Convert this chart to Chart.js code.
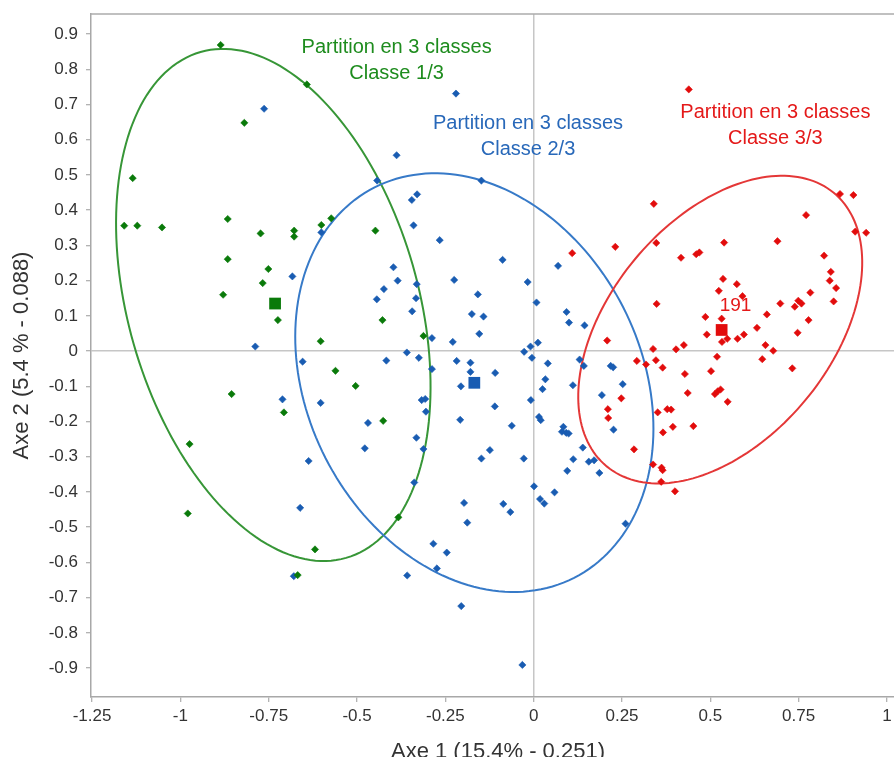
<!DOCTYPE html>
<html><head><meta charset="utf-8">
<script src="https://cdn.jsdelivr.net/npm/chart.js@4"></script>
<style>html,body{margin:0;padding:0;background:#fff;overflow:hidden;width:894px;height:757px}canvas{display:block}</style>
</head><body>
<canvas id="c" width="906" height="765" style="width:906px;height:765px"></canvas>
<script>
// ---- data ----
const xTicks = [-1.25, -1, -0.75, -0.5, -0.25, 0, 0.25, 0.5, 0.75, 1];
const yTicks = [-0.9, -0.8, -0.7, -0.6, -0.5, -0.4, -0.3, -0.2, -0.1, 0, 0.1, 0.2, 0.3, 0.4, 0.5, 0.6, 0.7, 0.8, 0.9];
const classLabels = ['Classe 1/3', 'Classe 2/3', 'Classe 3/3'];
const partitionTitle = 'Partition en 3 classes';

const class1 = [
 [-0.886,0.869],[-0.642,0.757],[-0.819,0.648],[-1.135,0.491],[-1.159,0.356],[-1.122,0.356],
 [-1.052,0.351],[-0.866,0.375],[-0.773,0.334],[-0.678,0.342],[-0.678,0.325],[-0.601,0.358],
 [-0.573,0.377],[-0.448,0.342],[-0.866,0.261],[-0.751,0.233],[-0.767,0.193],[-0.879,0.160],
 [-0.724,0.088],[-0.428,0.088],[-0.603,0.028],[-0.312,0.043],[-0.561,-0.056],[-0.504,-0.099],
 [-0.855,-0.122],[-0.707,-0.174],[-0.426,-0.198],[-0.974,-0.264],[-0.979,-0.461],[-0.619,-0.563],
 [-0.668,-0.636],[-0.383,-0.472]
];
const class2 = [
 [-0.763,0.688],[-0.443,0.484],[-0.601,0.337],[-0.683,0.212],[-0.424,0.176],[-0.444,0.147],
 [-0.788,0.013],[-0.654,-0.030],[-0.417,-0.027],[-0.711,-0.137],[-0.603,-0.147],[-0.469,-0.204],
 [-0.478,-0.276],[-0.637,-0.312],[-0.661,-0.445],[-0.679,-0.639],[-0.220,0.731],[-0.388,0.556],
 [-0.148,0.484],[-0.330,0.445],[-0.345,0.429],[-0.340,0.357],[-0.266,0.315],[-0.088,0.259],
 [0.069,0.242],[-0.397,0.238],[-0.385,0.200],[-0.331,0.190],[-0.225,0.202],[-0.017,0.196],
 [-0.158,0.161],[-0.333,0.150],[0.008,0.138],[0.093,0.111],[0.100,0.081],[0.144,0.073],
 [-0.344,0.113],[-0.175,0.105],[-0.142,0.098],[-0.154,0.049],[-0.288,0.037],[-0.229,0.026],
 [-0.359,-0.004],[-0.325,-0.019],[-0.288,-0.051],[-0.218,-0.028],[-0.179,-0.033],[-0.179,-0.059],
 [-0.109,-0.062],[-0.206,-0.100],[-0.027,-0.002],[-0.009,0.013],[0.012,0.024],[-0.005,-0.019],
 [0.040,-0.035],[0.033,-0.080],[0.025,-0.108],[0.111,-0.097],[0.130,-0.024],[0.142,-0.042],
 [0.218,-0.042],[0.225,-0.046],[0.193,-0.125],[0.226,-0.223],[-0.307,-0.136],[-0.317,-0.139],
 [-0.305,-0.172],[-0.008,-0.139],[-0.110,-0.157],[-0.208,-0.195],[0.015,-0.187],[0.020,-0.196],
 [-0.062,-0.212],[0.084,-0.215],[0.080,-0.229],[0.092,-0.232],[0.099,-0.234],[-0.332,-0.246],
 [-0.312,-0.278],[-0.124,-0.281],[-0.148,-0.305],[-0.028,-0.305],[0.139,-0.274],[0.112,-0.307],
 [0.156,-0.314],[0.171,-0.310],[0.095,-0.340],[0.186,-0.346],[-0.338,-0.373],[0.001,-0.384],
 [0.018,-0.420],[0.030,-0.433],[0.059,-0.401],[-0.197,-0.431],[-0.086,-0.434],[-0.066,-0.457],
 [-0.188,-0.487],[-0.284,-0.547],[-0.246,-0.572],[-0.274,-0.617],[-0.358,-0.637],[-0.205,-0.724],
 [-0.032,-0.891],[0.252,-0.094],[0.260,-0.490]
];
const class3 = [
 [0.439,0.743],[0.340,0.418],[0.231,0.296],[0.109,0.278],[0.347,0.307],[0.417,0.265],
 [0.460,0.275],[0.469,0.280],[0.539,0.308],[0.690,0.312],[0.771,0.386],[0.867,0.446],
 [0.905,0.443],[0.910,0.339],[0.941,0.336],[0.822,0.271],[0.841,0.225],[0.838,0.200],
 [0.856,0.179],[0.783,0.166],[0.536,0.205],[0.575,0.190],[0.524,0.171],[0.591,0.156],
 [0.208,0.030],[0.210,-0.165],[0.211,-0.190],[0.348,0.134],[0.698,0.135],[0.749,0.143],
 [0.758,0.135],[0.849,0.141],[0.739,0.126],[0.660,0.104],[0.778,0.088],[0.486,0.097],
 [0.532,0.092],[0.490,0.047],[0.533,0.026],[0.548,0.035],[0.577,0.035],[0.595,0.047],
 [0.632,0.066],[0.747,0.052],[0.656,0.017],[0.678,0.001],[0.647,-0.023],[0.732,-0.049],
 [0.425,0.017],[0.403,0.005],[0.338,0.006],[0.519,-0.016],[0.292,-0.028],[0.318,-0.038],
 [0.346,-0.026],[0.365,-0.047],[0.502,-0.057],[0.428,-0.065],[0.436,-0.119],[0.513,-0.122],
 [0.521,-0.114],[0.529,-0.109],[0.549,-0.144],[0.248,-0.134],[0.351,-0.174],[0.378,-0.165],
 [0.389,-0.166],[0.394,-0.215],[0.452,-0.213],[0.366,-0.231],[0.284,-0.279],[0.338,-0.322],
 [0.362,-0.331],[0.365,-0.338],[0.361,-0.371],[0.400,-0.398]
];
const centroids = [[-0.732,0.135],[-0.168,-0.090],[0.532,0.060]];
// confidence ellipses: centre x, centre y, semi-major, semi-minor, angle (deg)
const ellipseCx = [-0.737, -0.168, 0.528];
const ellipseCy = [0.131, -0.0895, 0.061];
const ellipseA = [0.747, 0.622, 0.504];
const ellipseB = [0.4105, 0.4725, 0.3134];
const ellipseAngle = [106, 117, 50.4];
const labeledName = '191';
const labeledPoint = [0.532, 0.092];

// ---- styles ----
const pointColors = ['rgb(10,122,10)', 'rgb(25,92,178)', 'rgb(226,12,12)'];
const ellipseColors = ['rgb(55,150,55)', 'rgb(55,122,200)', 'rgb(228,55,55)'];
const textColors = ['rgb(30,140,30)', 'rgb(40,104,185)', 'rgb(228,25,25)'];
const FONT = "'Liberation Sans', Arial, sans-serif";
const annotationAnchors = [[-0.388,0.862],[-0.016,0.647],[0.684,0.678]];
const PLOT_LEFT = 91, PLOT_RIGHT = 905, PLOT_TOP = 14, PLOT_BOTTOM = 697;

function toPts(arr){ return arr.map(p => ({x:p[0], y:p[1]})); }
function fmt(v){ let r = Math.round(v*100)/100; if (Object.is(r,-0)) r = 0; return String(r); }

const datasets = [];
[class1, class2, class3].forEach((cls, i) => {
  datasets.push({label: classLabels[i], data: toPts(cls), pointStyle:'rectRot', pointRadius:3.6,
    pointBorderWidth:0.6, backgroundColor: pointColors[i], borderColor: pointColors[i], showLine:false});
});
centroids.forEach((c, i) => {
  datasets.push({label: classLabels[i] + ' centre', data: [{x:c[0], y:c[1]}], pointStyle:'rect', pointRadius:8.3,
    pointBorderWidth:0, backgroundColor: pointColors[i], borderColor: pointColors[i], showLine:false});
});

const decor = {
  id:'decor',
  beforeDatasetsDraw(chart){
    const {ctx, scales:{x, y}} = chart;
    ctx.save();
    for (let i = 0; i < ellipseCx.length; i++) {
      const th = ellipseAngle[i]*Math.PI/180, a = ellipseA[i], b = ellipseB[i];
      ctx.beginPath();
      for (let k = 0; k <= 180; k++) {
        const t = k/180*2*Math.PI;
        const dx = a*Math.cos(t)*Math.cos(th) - b*Math.sin(t)*Math.sin(th);
        const dy = a*Math.cos(t)*Math.sin(th) + b*Math.sin(t)*Math.cos(th);
        const px = x.getPixelForValue(ellipseCx[i]+dx), py = y.getPixelForValue(ellipseCy[i]+dy);
        if (k === 0) ctx.moveTo(px, py); else ctx.lineTo(px, py);
      }
      ctx.closePath();
      ctx.strokeStyle = ellipseColors[i];
      ctx.lineWidth = 2;
      ctx.stroke();
    }
    ctx.restore();
  },
  afterDraw(chart){
    const {ctx, chartArea, scales:{x, y}} = chart;
    ctx.save();
    ctx.strokeStyle = '#ababab'; ctx.lineWidth = 1.5;
    ctx.beginPath(); ctx.moveTo(chartArea.left, chartArea.top); ctx.lineTo(chartArea.right, chartArea.top); ctx.stroke();
    ctx.font = '20px ' + FONT; ctx.textAlign = 'center'; ctx.textBaseline = 'middle';
    annotationAnchors.forEach((p, i) => {
      const px = x.getPixelForValue(p[0]), py = y.getPixelForValue(p[1]);
      ctx.fillStyle = textColors[i];
      ctx.fillText(partitionTitle, px, py);
      ctx.fillText(classLabels[i], px, py + 26);
    });
    ctx.font = '19px ' + FONT; ctx.textAlign = 'left';
    ctx.fillStyle = textColors[2];
    ctx.fillText(labeledName, x.getPixelForValue(labeledPoint[0]) - 2, y.getPixelForValue(labeledPoint[1]) - 13);
    ctx.restore();
  }
};

const zeroGrid = c => (c.tick && Math.abs(c.tick.value) < 1e-9) ? '#c6c6c6' : 'rgba(0,0,0,0)';
function noPad(s){ s.paddingTop = 0; s.paddingBottom = 0; s.paddingLeft = 0; s.paddingRight = 0; }
// pin the plot frame so the axes sit exactly where the reference has them
function pinX(s){ s.left = PLOT_LEFT; s.right = PLOT_RIGHT; s.width = PLOT_RIGHT - PLOT_LEFT; s.configure(); }
function pinY(s){ s.top = PLOT_TOP; s.bottom = PLOT_BOTTOM; s.height = PLOT_BOTTOM - PLOT_TOP; s.configure(); }

new Chart(document.getElementById('c'), {
  type:'scatter',
  data:{datasets},
  options:{
    responsive:false, animation:false, events:[],
    layout:{padding:{top:PLOT_TOP, right:1, left:0, bottom:0}},
    plugins:{legend:{display:false}, tooltip:{enabled:false}},
    scales:{
      x:{type:'linear', min:-1.253, max:1.051,
        afterBuildTicks: s => { s.ticks = xTicks.map(v => ({value:v})); },
        afterFit: s => { s.height = 68; noPad(s); },
        grid:{color: zeroGrid, lineWidth:1.5, drawTicks:true, tickLength:5, tickColor:'#9a9a9a', tickWidth:1},
        border:{color:'#a8a8a8', width:1.5},
        ticks:{color:'#333', font:{family:FONT, size:17}, padding:4, maxRotation:0, autoSkip:false, callback: v => fmt(v)},
        title:{display:true, text:'Axe 1 (15.4% - 0.251)', color:'#333', font:{family:FONT, size:22}, padding:{top:4, bottom:0}}
      },
      y:{type:'linear', min:-0.982, max:0.957,
        afterBuildTicks: s => { s.ticks = yTicks.map(v => ({value:v})); },
        afterFit: s => { s.width = PLOT_LEFT; noPad(s); },
        grid:{color: zeroGrid, lineWidth:1.5, drawTicks:true, tickLength:5, tickColor:'#9a9a9a', tickWidth:1},
        border:{color:'#a8a8a8', width:1.5},
        ticks:{color:'#333', font:{family:FONT, size:17}, padding:8, autoSkip:false, callback: v => fmt(v)},
        title:{display:true, text:'Axe 2 (5.4 % - 0.088)', color:'#333', font:{family:FONT, size:22}, padding:{top:9, bottom:0}}
      }
    }
  },
  plugins:[decor, {
    id:'pinFrame',
    afterLayout(chart){
      const ca = chart.chartArea;
      ca.left = PLOT_LEFT; ca.right = PLOT_RIGHT; ca.top = PLOT_TOP; ca.bottom = PLOT_BOTTOM;
      ca.width = PLOT_RIGHT - PLOT_LEFT; ca.height = PLOT_BOTTOM - PLOT_TOP;
      pinX(chart.scales.x); pinY(chart.scales.y);
    }
  }]
});
</script>
</body></html>
